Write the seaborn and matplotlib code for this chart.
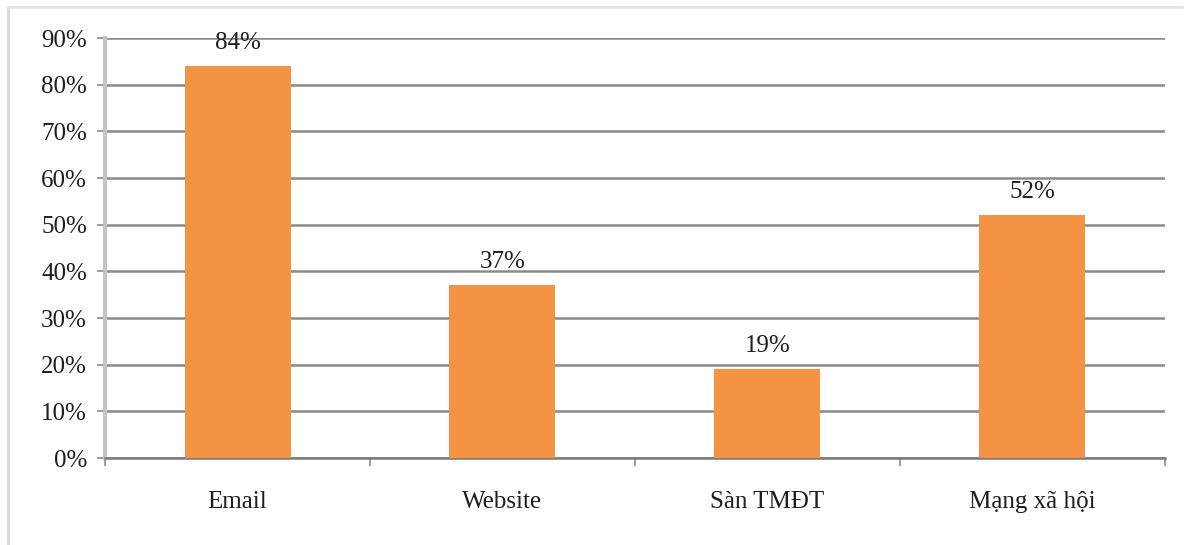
import matplotlib
matplotlib.use("Agg")
import matplotlib.pyplot as plt
from matplotlib.ticker import FuncFormatter
from matplotlib.lines import Line2D
import seaborn as sns
import pandas as pd

categories = ["Email", "Website", "Sàn TMĐT", "Mạng xã hội"]
values = [84, 37, 19, 52]
value_labels = ["84%", "37%", "19%", "52%"]
y_ticks = [0, 10, 20, 30, 40, 50, 60, 70, 80, 90]

sns.set_theme(style="white")
plt.rcParams["font.family"] = ["Liberation Serif", "DejaVu Serif"]

df = pd.DataFrame({"kenh": categories, "ty_le": values})

fig = plt.figure(figsize=(11.88, 5.45), dpi=100)
ax = fig.add_axes([0.0884, 0.1596, 0.8922, 0.7706])

sns.barplot(data=df, x="kenh", y="ty_le", color="#F39343", saturation=1,
            width=0.4, linewidth=0, ax=ax, zorder=3)

ax.set_ylim(0, 90)
ax.set_xlim(-0.5, len(categories) - 0.5)
ax.set_yticks(y_ticks)
ax.yaxis.set_major_formatter(FuncFormatter(lambda v, _: f"{v:.0f}%"))
ax.yaxis.grid(True, color="#8a8a8a", linewidth=1.8, zorder=0)
ax.set_axisbelow(True)
ax.set_xlabel("")
ax.set_ylabel("")

# category boundary ticks along the bottom axis
ax.set_xticks([i for i in range(len(categories))])
ax.set_xticklabels(categories, fontsize=18, color="#1e1e1e")
ax.set_xticks([i + 0.5 for i in range(-1, len(categories))], minor=True)
ax.tick_params(axis="x", which="major", length=0, pad=24)
ax.tick_params(axis="x", which="minor", length=6, width=1.2, color="#8a8a8a",
               direction="out", bottom=True)
ax.tick_params(axis="y", length=6, width=1.2, color="#8a8a8a", direction="out",
               left=True, labelsize=18, labelcolor="#1e1e1e", pad=7)

for side in ("top", "right"):
    ax.spines[side].set_visible(False)
ax.spines["left"].set_color("#c4c4c4")
ax.spines["left"].set_linewidth(3)
ax.spines["bottom"].set_color("#7a7a7a")
ax.spines["bottom"].set_linewidth(1.8)

for i, (v, lab) in enumerate(zip(values, value_labels)):
    ax.annotate(lab, xy=(i, v), xytext=(0, 9), textcoords="offset points",
                ha="center", va="bottom", fontsize=18, color="#1e1e1e", zorder=4)

# thin outer frame lines at the left and top of the figure
fig.add_artist(Line2D([0.007, 0.007], [0.0, 0.987], transform=fig.transFigure,
                      color="#d8d8d8", linewidth=2))
fig.add_artist(Line2D([0.007, 0.995], [0.987, 0.987], transform=fig.transFigure,
                      color="#e2e2e2", linewidth=2))

fig.savefig("out.png", dpi=100)
